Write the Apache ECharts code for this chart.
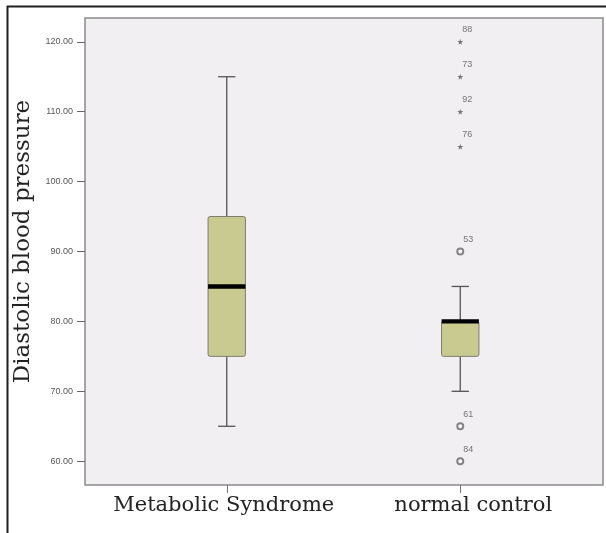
<!DOCTYPE html>
<html>
<head>
<meta charset="utf-8">
<script src="https://cdn.jsdelivr.net/npm/echarts@6/dist/echarts.min.js"></script>
<style>
  html, body { margin: 0; padding: 0; background: #fff; }
  #chart { width: 606px; height: 533px; }
</style>
</head>
<body>
<div id="chart"></div>
<script>
const categories = ['Metabolic Syndrome', 'normal control']
// [low whisker, Q1, median, Q3, high whisker]
const boxStats = [
  [65, 75, 85, 95, 115],
  [70, 75, 80, 80, 85]
]
// extreme outliers (stars) and outliers (circles): [category, value, case id]
const starOutliers = [
  ['normal control', 120, '88'],
  ['normal control', 115, '73'],
  ['normal control', 110, '92'],
  ['normal control', 105, '76']
]
const circleOutliers = [
  ['normal control', 90, '53'],
  ['normal control', 65, '61'],
  ['normal control', 60, '84']
]
const yTicks = [60, 70, 80, 90, 100, 110, 120]

const STAR = 'path://M50,0 L61,35 L98,35 L68,57 L79,91 L50,70 L21,91 L32,57 L2,35 L39,35 Z'

const renderBox = (params, api) => {
  const cat = api.value(0)
  const y = i => api.coord([cat, api.value(i)])[1]
  const cx = api.coord([cat, api.value(1)])[0]
  const band = api.size([1, 0])[0]
  const half = band * 0.08
  const cap = band * 0.037
  const yLow = y(1), yQ1 = y(2), yMed = y(3), yQ3 = y(4), yHigh = y(5)
  const ws = { stroke: '#555', lineWidth: 1.3 }
  return {
    type: 'group',
    children: [
      { type: 'line', shape: { x1: cx, y1: yHigh, x2: cx, y2: yQ3 }, style: ws },
      { type: 'line', shape: { x1: cx, y1: yQ1, x2: cx, y2: yLow }, style: ws },
      { type: 'line', shape: { x1: cx - cap, y1: yHigh, x2: cx + cap, y2: yHigh }, style: ws },
      { type: 'line', shape: { x1: cx - cap, y1: yLow, x2: cx + cap, y2: yLow }, style: ws },
      {
        type: 'rect',
        shape: { x: cx - half, y: yQ3, width: half * 2, height: yQ1 - yQ3, r: 2 },
        style: { fill: '#c9ca90', stroke: '#7c7c70', lineWidth: 1 }
      },
      { type: 'rect', shape: { x: cx - half, y: yMed - 2.2, width: half * 2, height: 4.4 }, style: { fill: '#000' } }
    ]
  }
}

const outlierLabel = {
  show: true,
  position: 'right',
  offset: [-6, -12],
  formatter: p => p.value[2],
  fontFamily: 'Liberation Sans',
  fontSize: 9,
  color: '#555'
}

const chart = echarts.init(document.getElementById('chart'))
chart.setOption({
  backgroundColor: '#fff',
  animation: false,
  graphic: [
    {
      type: 'rect', z: -10,
      shape: { x: 85, y: 18, width: 518, height: 467 },
      style: { fill: '#f1eff1', stroke: '#8a8a8a', lineWidth: 1.5 }
    },
    { type: 'line', shape: { x1: 7, y1: 6.5, x2: 606, y2: 6.5 }, style: { stroke: '#1e1e1e', lineWidth: 2 } },
    { type: 'line', shape: { x1: 7.5, y1: 6, x2: 7.5, y2: 533 }, style: { stroke: '#1e1e1e', lineWidth: 2 } }
  ],
  grid: { left: 110, right: 29, top: 18, bottom: 48 },
  xAxis: {
    type: 'category',
    data: categories,
    axisLine: { show: false },
    axisTick: { show: true, alignWithLabel: true, interval: 0, length: 8, lineStyle: { color: '#777' } },
    axisLabel: {
      interval: 0,
      hideOverlap: false,
      margin: 10,
      fontFamily: 'DejaVu Serif',
      fontSize: 21,
      color: '#222',
      formatter: (v, i) => (i === 1 ? `{r|${v}}` : `{l|${v}}`),
      rich: {
        l: { fontFamily: 'DejaVu Serif', fontSize: 21, color: '#222', padding: [0, 6, 0, 0] },
        r: { fontFamily: 'DejaVu Serif', fontSize: 21, color: '#222', padding: [0, 0, 0, 26] }
      }
    },
    splitLine: { show: false }
  },
  yAxis: {
    type: 'value',
    min: 56.6,
    max: 123.4,
    offset: 25,
    name: 'Diastolic blood pressure',
    nameLocation: 'middle',
    nameGap: 46,
    nameTextStyle: { fontFamily: 'DejaVu Serif', fontSize: 23, color: '#222', padding: [0, 0, 0, 20] },
    axisLine: { show: false },
    axisTick: { show: true, length: 8, customValues: yTicks, lineStyle: { color: '#666' } },
    axisLabel: {
      customValues: yTicks,
      formatter: v => v.toFixed(2),
      margin: 12,
      fontFamily: 'Liberation Sans',
      fontSize: 9,
      color: '#555'
    },
    splitLine: { show: false }
  },
  series: [
    {
      type: 'custom',
      renderItem: renderBox,
      data: boxStats.map((s, i) => [i, ...s]),
      encode: { x: 0, y: [1, 2, 3, 4, 5] },
      z: 3
    },
    {
      type: 'scatter',
      symbol: STAR,
      symbolSize: 6,
      itemStyle: { color: '#555' },
      label: outlierLabel,
      data: starOutliers,
      z: 4
    },
    {
      type: 'scatter',
      symbol: 'emptyCircle',
      symbolSize: 6,
      itemStyle: { color: '#666', borderWidth: 0.8 },
      label: outlierLabel,
      data: circleOutliers,
      z: 4
    }
  ]
})
</script>
</body>
</html>
